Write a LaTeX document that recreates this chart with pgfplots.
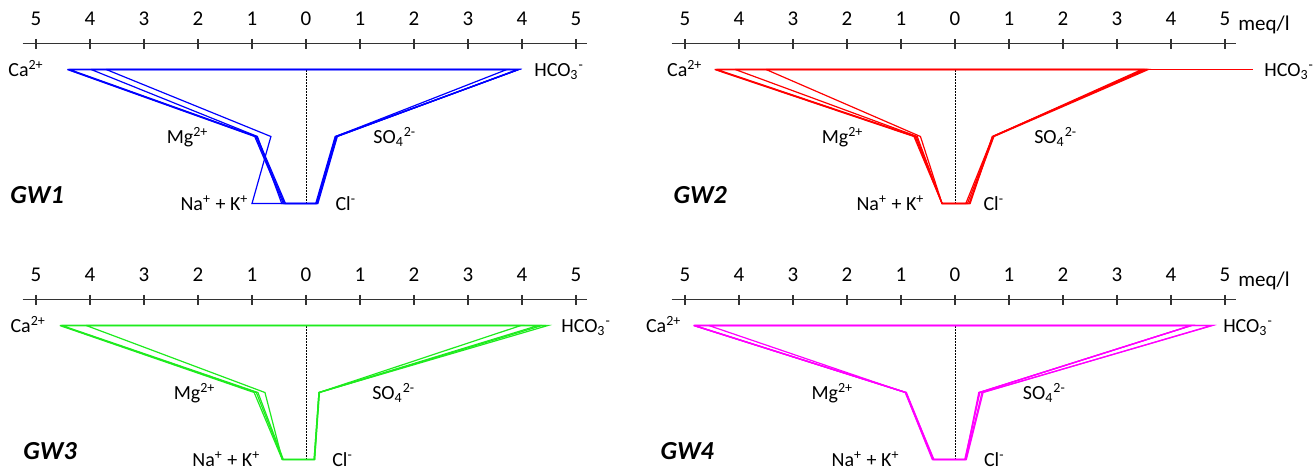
\documentclass[border=0pt]{standalone}
\usepackage{fontspec}
\setmainfont{Carlito}
\usepackage{pgfplots}
\pgfplotsset{compat=1.18}
\definecolor{gwblue}{RGB}{0,0,255}
\definecolor{gwred}{RGB}{255,0,0}
\definecolor{gwgreen}{RGB}{30,235,30}
\definecolor{gwmag}{RGB}{255,0,255}
\pgfplotsset{
  stiff/.style={
    x=27pt, y=33.5pt,
    xmin=-5.25, xmax=5.2, ymin=-0.3, ymax=2.384,
    axis x line=top, axis y line=none,
    axis line style={-, black!80, line width=0.6pt},
    xtick={-5,-4,-3,-2,-1,0,1,2,3,4,5},
    xticklabels={5,4,3,2,1,0,1,2,3,4,5},
    xtick align=center,
    major tick length=5pt,
    tick style={black!80, line width=0.6pt},
    xticklabel style={font=\fontsize{10.5}{12}\selectfont, anchor=base, yshift=6.65pt, inner sep=0pt},
    clip=false,
    anchor=south west,
    every axis plot/.append style={line width=0.6pt, line join=miter},
  },
}
\tikzset{
  ion/.style={font=\fontsize{10}{12}\selectfont, inner sep=0pt, yshift=-3.7pt},
  gw/.style={font=\fontsize{13}{15}\selectfont\bfseries\itshape, inner sep=0pt, anchor=base west},
  zero/.style={black, line width=0.5pt, dash pattern=on 0.6pt off 0.9pt},
}
\begin{document}
\begin{tikzpicture}
% ---------- GW1 ----------
\begin{axis}[stiff, at={(11.25pt,-111.8pt)}]
\addplot[zero] coordinates {(0,0) (0,2)};
\addplot[gwblue] coordinates {(-4.42,2) (-0.95,1) (-0.42,0) (0.18,0) (0.54,1) (3.94,2) (-4.42,2)};
\addplot[gwblue] coordinates {(-4.40,2) (-0.93,1) (-0.40,0) (0.20,0) (0.56,1) (3.94,2) (-4.40,2)};
\addplot[gwblue] coordinates {(-4.38,2) (-0.91,1) (-0.38,0) (0.22,0) (0.58,1) (3.92,2) (-4.38,2)};
\addplot[gwblue] coordinates {(-3.98,2) (-0.90,1) (-0.45,0) (0.20,0) (0.55,1) (3.72,2) (-3.98,2)};
\addplot[gwblue] coordinates {(-3.70,2) (-0.65,1) (-1.00,0) (0.20,0) (0.57,1) (3.94,2) (-3.70,2)};
\node[ion, anchor=base east] at (axis cs:-4.85,2) {Ca\textsuperscript{2+}};
\node[ion, anchor=base west] at (axis cs:4.22,2) {HCO\textsubscript{3}\textsuperscript{-}};
\node[ion, anchor=base east] at (axis cs:-1.80,1) {Mg\textsuperscript{2+}};
\node[ion, anchor=base west] at (axis cs:1.24,1) {SO\textsubscript{4}\textsuperscript{2-}};
\node[ion, anchor=base east] at (axis cs:-1.06,0) {Na\textsuperscript{+} + K\textsuperscript{+}};
\node[ion, anchor=base west] at (axis cs:0.54,0) {Cl\textsuperscript{-}};
\node[gw] at (axis cs:-5.48,0) {GW1};
\end{axis}
% ---------- GW2 ----------
\begin{axis}[stiff, at={(335.75pt,-111.8pt)}]
\addplot[zero] coordinates {(0,0) (0,2)};
\addplot[gwred] coordinates {(-4.45,2) (-0.76,1) (-0.24,0) (0.20,0) (0.70,1) (3.54,2) (-4.45,2)};
\addplot[gwred] coordinates {(-4.43,2) (-0.74,1) (-0.24,0) (0.23,0) (0.71,1) (3.50,2) (-4.43,2)};
\addplot[gwred] coordinates {(-4.41,2) (-0.72,1) (-0.24,0) (0.26,0) (0.72,1) (3.58,2) (-4.41,2)};
\addplot[gwred] coordinates {(-4.07,2) (-0.70,1) (-0.24,0) (0.28,0) (0.70,1) (3.46,2) (-4.07,2)};
\addplot[gwred] coordinates {(-3.50,2) (-0.64,1) (-0.24,0) (0.27,0) (0.69,1) (3.52,2) (-3.50,2)};
\addplot[gwred] coordinates {(-4.45,2) (5.51,2)};
\node[ion, anchor=base east] at (axis cs:-4.67,2) {Ca\textsuperscript{2+}};
\node[ion, anchor=base west] at (axis cs:5.72,2) {HCO\textsubscript{3}\textsuperscript{-}};
\node[ion, anchor=base east] at (axis cs:-1.69,1) {Mg\textsuperscript{2+}};
\node[ion, anchor=base west] at (axis cs:1.46,1) {SO\textsubscript{4}\textsuperscript{2-}};
\node[ion, anchor=base east] at (axis cs:-0.56,0) {Na\textsuperscript{+} + K\textsuperscript{+}};
\node[ion, anchor=base west] at (axis cs:0.52,0) {Cl\textsuperscript{-}};
\node[gw] at (axis cs:-5.22,0) {GW2};
\node[anchor=base west, inner sep=0pt, font=\fontsize{10.5}{12}\selectfont] at (axis cs:5.24,2.384) [yshift=6.65pt] {meq/l};
\end{axis}
% ---------- GW3 ----------
\begin{axis}[stiff, at={(11.25pt,-239.8pt)}]
\addplot[zero] coordinates {(0,0) (0,2)};
\addplot[gwgreen] coordinates {(-4.56,2) (-0.96,1) (-0.44,0) (0.15,0) (0.24,1) (4.48,2) (-4.56,2)};
\addplot[gwgreen] coordinates {(-4.54,2) (-0.92,1) (-0.43,0) (0.16,0) (0.25,1) (4.37,2) (-4.54,2)};
\addplot[gwgreen] coordinates {(-4.52,2) (-0.89,1) (-0.42,0) (0.15,0) (0.24,1) (4.30,2) (-4.52,2)};
\addplot[gwgreen] coordinates {(-4.07,2) (-0.76,1) (-0.44,0) (0.16,0) (0.24,1) (3.98,2) (-4.07,2)};
\node[ion, anchor=base east] at (axis cs:-4.81,2) {Ca\textsuperscript{2+}};
\node[ion, anchor=base west] at (axis cs:4.72,2) {HCO\textsubscript{3}\textsuperscript{-}};
\node[ion, anchor=base east] at (axis cs:-1.67,1) {Mg\textsuperscript{2+}};
\node[ion, anchor=base west] at (axis cs:1.22,1) {SO\textsubscript{4}\textsuperscript{2-}};
\node[ion, anchor=base east] at (axis cs:-0.84,0) {Na\textsuperscript{+} + K\textsuperscript{+}};
\node[ion, anchor=base west] at (axis cs:0.48,0) {Cl\textsuperscript{-}};
\node[gw] at (axis cs:-5.24,0) {GW3};
\end{axis}
% ---------- GW4 ----------
\begin{axis}[stiff, at={(335.75pt,-239.8pt)}]
\addplot[zero] coordinates {(0,0) (0,2)};
\addplot[gwmag] coordinates {(-4.84,2) (-0.91,1) (-0.41,0) (0.19,0) (0.44,1) (4.38,2) (-4.84,2)};
\addplot[gwmag] coordinates {(-4.83,2) (-0.90,1) (-0.40,0) (0.20,0) (0.45,1) (4.37,2) (-4.83,2)};
\addplot[gwmag] coordinates {(-4.82,2) (-0.91,1) (-0.39,0) (0.18,0) (0.46,1) (4.38,2) (-4.82,2)};
\addplot[gwmag] coordinates {(-4.56,2) (-0.92,1) (-0.41,0) (0.20,0) (0.50,1) (4.77,2) (-4.56,2)};
\addplot[gwmag] coordinates {(-4.84,2) (-0.92,1) (-0.42,0) (0.21,0) (0.52,1) (4.75,2) (-4.84,2)};
\node[ion, anchor=base east] at (axis cs:-5.06,2) {Ca\textsuperscript{2+}};
\node[ion, anchor=base west] at (axis cs:4.96,2) {HCO\textsubscript{3}\textsuperscript{-}};
\node[ion, anchor=base east] at (axis cs:-1.88,1) {Mg\textsuperscript{2+}};
\node[ion, anchor=base west] at (axis cs:1.25,1) {SO\textsubscript{4}\textsuperscript{2-}};
\node[ion, anchor=base east] at (axis cs:-1.02,0) {Na\textsuperscript{+} + K\textsuperscript{+}};
\node[ion, anchor=base west] at (axis cs:0.53,0) {Cl\textsuperscript{-}};
\node[gw] at (axis cs:-5.46,0) {GW4};
\node[anchor=base west, inner sep=0pt, font=\fontsize{10.5}{12}\selectfont] at (axis cs:5.24,2.384) [yshift=6.65pt] {meq/l};
\end{axis}
\pgfresetboundingbox
\useasboundingbox (0pt,0pt) rectangle (658pt,-233.5pt);
\end{tikzpicture}
\end{document}
